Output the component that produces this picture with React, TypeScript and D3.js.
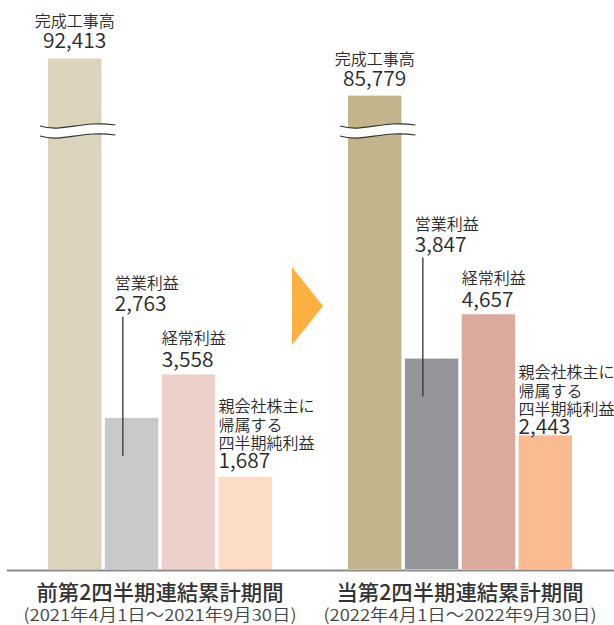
import React from "react";
import * as d3 from "d3";

const periods = ["前第2四半期連結累計期間", "当第2四半期連結累計期間"];
const periodRanges = ["(2021年4月1日～2021年9月30日)", "(2022年4月1日～2022年9月30日)"];
const seriesKeys = ["completion", "operating", "ordinary", "net"];
const seriesLabels = [["完成工事高"], ["営業利益"], ["経常利益"], ["親会社株主に", "帰属する", "四半期純利益"]];
const completionValues = [92413, 85779];
const operatingValues = [2763, 3847];
const ordinaryValues = [3558, 4657];
const netValues = [1687, 2443];
const colorsPrev = ["#dcd3bd", "#c8c9cb", "#ecd0c9", "#fcdcc4"];
const colorsCurr = ["#c3b48c", "#939598", "#dca99f", "#f9bb8f"];

const W = 614;
const H = 625;
const baseY = 569;
const FONT = "'Noto Sans CJK JP', 'Noto Sans', sans-serif";

export default function App() {
  const xGroup = d3.scaleBand<string>().domain(periods).range([48, 572]).paddingInner(76 / 300).paddingOuter(0);
  const xInner = d3.scaleBand<string>().domain(seriesKeys).range([0, xGroup.bandwidth()]).paddingInner(0.06).paddingOuter(0);
  const yLow = d3.scaleLinear().domain([0, 10000]).range([baseY, baseY - 547]);
  const yHigh = d3.scaleLinear().domain([80000, 100000]).range([128, 16]);
  const fmt = d3.format(",");

  const netOffsets = [18, 10];
  const netLineOffsets = [54, 35, 17];
  const breakY = 126;
  const wave = (x0: number, x1: number, y0: number) => {
    const w = x1 - x0;
    return `M${x0},${y0} C${x0 + w * 0.3},${y0 + 7} ${x0 + w * 0.55},${y0 - 6} ${x1},${y0 - 1}`;
  };
  const labelProps = { dominantBaseline: "central" as const, fontSize: 16, fontWeight: 350, fill: "#2b2b2b" };
  const numProps = { dominantBaseline: "central" as const, fontSize: 21, fontWeight: 350, fill: "#2b2b2b" };

  return (
    <svg width={W} height={H} style={{ position: "absolute", left: 0, top: 0, fontFamily: FONT }}>
      <rect x={0} y={0} width={W} height={H} fill="#fff" />
      {periods.map((p, i) => {
        const gx = xGroup(p)!;
        const colors = i === 0 ? colorsPrev : colorsCurr;
        const vals = [completionValues[i], operatingValues[i], ordinaryValues[i], netValues[i]];
        const bw = xInner.bandwidth();
        const tops = vals.map((v, k) => (k === 0 ? yHigh(v) : yLow(v)));
        const xs = seriesKeys.map((k) => gx + xInner(k)!);
        const wx0 = xs[0] - 8;
        const wx1 = xs[0] + bw + 14;
        const cx = gx + xGroup.bandwidth() / 2;
        return (
          <g key={p}>
            {vals.map((v, k) => (
              <rect key={k} x={xs[k]} y={tops[k]} width={bw} height={baseY - tops[k]} fill={colors[k]} />
            ))}
            <path d={`${wave(wx0, wx1, breakY)} L${wx1},${breakY + 9} C${wx0 + (wx1 - wx0) * 0.55},${breakY + 4} ${wx0 + (wx1 - wx0) * 0.3},${breakY + 17} ${wx0},${breakY + 10} Z`} fill="#fff" />
            <path d={wave(wx0, wx1, breakY)} fill="none" stroke="#333" strokeWidth={1.2} />
            <path d={wave(wx0, wx1, breakY + 10)} fill="none" stroke="#333" strokeWidth={1.2} />
            <text x={xs[0] + bw / 2} y={tops[0] - 38} textAnchor="middle" {...labelProps}>{seriesLabels[0][0]}</text>
            <text x={xs[0] + bw / 2} y={tops[0] - 19} textAnchor="middle" {...numProps}>{fmt(vals[0])}</text>
            <text x={xs[1] + 10} y={tops[1] - 136} {...labelProps}>{seriesLabels[1][0]}</text>
            <text x={xs[1] + 10} y={tops[1] - 116} {...numProps}>{fmt(vals[1])}</text>
            <line x1={xs[1] + 18} x2={xs[1] + 18} y1={tops[1] - 101} y2={tops[1] + 38} stroke="#333" strokeWidth={1.3} />
            <text x={xs[2]} y={tops[2] - 37} {...labelProps}>{seriesLabels[2][0]}</text>
            <text x={xs[2]} y={tops[2] - 16} {...numProps}>{fmt(vals[2])}</text>
            {seriesLabels[3].map((t, j) => (
              <text key={j} x={xs[3]} y={tops[3] - netOffsets[i] - netLineOffsets[j]} {...labelProps}>{t}</text>
            ))}
            <text x={xs[3]} y={tops[3] - netOffsets[i]} {...numProps}>{fmt(vals[3])}</text>
            <text x={cx} y={591} textAnchor="middle" dominantBaseline="central" fontSize={21} fontWeight={500} fill="#333" textLength={247} lengthAdjust="spacingAndGlyphs">{p}</text>
            <text x={cx} y={614} textAnchor="middle" dominantBaseline="central" fontSize={16.5} fontWeight={350} fill="#444" textLength={273} lengthAdjust="spacingAndGlyphs">{periodRanges[i]}</text>
          </g>
        );
      })}
      <line x1={7} x2={614} y1={baseY + 1.5} y2={baseY + 1.5} stroke="#8a8a8a" strokeWidth={2} />
      <path d="M292,267 L323,306 L292,345 Z" fill="#fbb040" />
    </svg>
  );
}
